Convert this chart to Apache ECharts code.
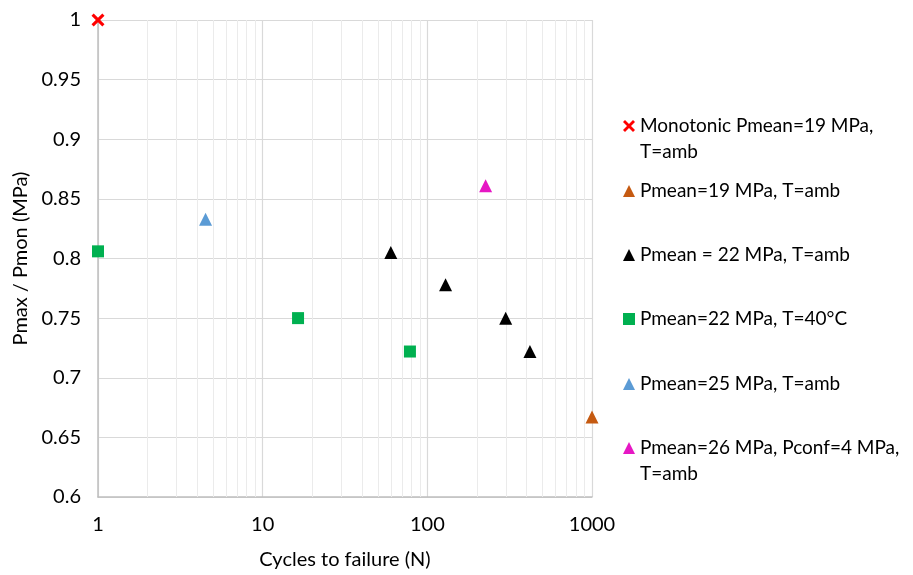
<!DOCTYPE html>
<html>
<head>
<meta charset="utf-8">
<script src="https://cdn.jsdelivr.net/npm/echarts@6/dist/echarts.min.js"></script>
<style>
  html, body { margin: 0; padding: 0; background: #fff; }
  #chart { width: 913px; height: 575px; }
</style>
</head>
<body>
<div id="chart"></div>
<script>
// Series names (legend text)
const seriesNames = [
  'Monotonic Pmean=19 MPa,\nT=amb',
  'Pmean=19 MPa, T=amb',
  'Pmean = 22 MPa, T=amb',
  'Pmean=22 MPa, T=40°C',
  'Pmean=25 MPa, T=amb',
  'Pmean=26 MPa, Pconf=4 MPa,\nT=amb'
];

// Cycles to failure (N) and Pmax / Pmon per test series
const monoCycles = [1];
const monoRatio = [1.0];

const p19Cycles = [1000];
const p19Ratio = [0.667];

const p22Cycles = [60, 129, 299, 420];
const p22Ratio = [0.805, 0.778, 0.750, 0.722];

const p22hotCycles = [1, 16.4, 78.4];
const p22hotRatio = [0.806, 0.750, 0.722];

const p25Cycles = [4.5];
const p25Ratio = [0.833];

const p26Cycles = [226];
const p26Ratio = [0.861];

// Log-axis minor gridline positions
const minorGrid = [2, 3, 4, 5, 6, 7, 8, 9, 20, 30, 40, 50, 60, 70, 80, 90, 200, 300, 400, 500, 600, 700, 800, 900];

const FONT = 'Lato, "Open Sans", sans-serif';
const xShape = 'path://M0,2 L2,0 L6,4 L10,0 L12,2 L8,6 L12,10 L10,12 L6,8 L2,12 L0,10 L4,6 Z';

function pairs(xs, ys) {
  return xs.map((x, i) => [x, ys[i]]);
}

const styles = [
  { symbol: xShape, size: 13, color: '#ff0000' },
  { symbol: 'triangle', size: 13, color: '#c55a11' },
  { symbol: 'triangle', size: 13, color: '#000000' },
  { symbol: 'rect', size: 12, color: '#00b050' },
  { symbol: 'triangle', size: 13, color: '#5b9bd5' },
  { symbol: 'triangle', size: 13, color: '#e617c4' }
];

const datasets = [
  pairs(monoCycles, monoRatio),
  pairs(p19Cycles, p19Ratio),
  pairs(p22Cycles, p22Ratio),
  pairs(p22hotCycles, p22hotRatio),
  pairs(p25Cycles, p25Ratio),
  pairs(p26Cycles, p26Ratio)
];

const series = datasets.map((data, i) => ({
  name: seriesNames[i],
  type: 'scatter',
  data: data,
  symbol: styles[i].symbol,
  symbolSize: styles[i].size,
  itemStyle: { color: styles[i].color, opacity: 1 },
  clip: false,
  z: 5,
  animation: false
}));

// Minor vertical gridlines carried by a series with no points
series.push({
  type: 'scatter',
  data: [],
  z: 1,
  silent: true,
  animation: false,
  markLine: {
    silent: true,
    symbol: 'none',
    animation: false,
    label: { show: false },
    lineStyle: { color: '#ebebeb', width: 1, type: 'solid' },
    data: minorGrid.map(v => ({ xAxis: v }))
  }
});

// One legend block per entry so every row sits on its own line;
// wrapped entries get a blank leading line so the marker lines up with the first text line
const legendRowCenters = [126, 191, 255, 319, 384, 448];
const legends = seriesNames.map((name, i) => {
  const twoLine = name.indexOf('\n') >= 0;
  return {
    data: [{ name: name, icon: styles[i].symbol }],
    orient: 'vertical',
    left: 623,
    top: legendRowCenters[i] - (twoLine ? 39 : 13),
    padding: 0,
    itemWidth: 12,
    itemHeight: 12,
    selectedMode: false,
    formatter: n => (twoLine ? ' \n' + n : n),
    textStyle: {
      fontFamily: FONT,
      fontSize: 19,
      color: '#000',
      lineHeight: 26
    }
  };
});

const chart = echarts.init(document.getElementById('chart'), null, { renderer: 'canvas' });
chart.setOption({
  animation: false,
  backgroundColor: '#ffffff',
  grid: { left: 98, right: 321, top: 20, bottom: 73, containLabel: false },
  legend: legends,
  xAxis: {
    type: 'log',
    logBase: 10,
    min: 1,
    max: 1000,
    name: 'Cycles to failure (N)',
    nameLocation: 'middle',
    nameGap: 53,
    nameTextStyle: { fontFamily: FONT, fontSize: 20, color: '#000' },
    axisLine: { show: true, lineStyle: { color: '#bfbfbf', width: 1.5 } },
    axisTick: { show: false },
    axisLabel: { fontFamily: FONT, fontSize: 20, color: '#000', margin: 18, formatter: v => String(v) },
    splitLine: { show: true, lineStyle: { color: '#d9d9d9', width: 1.2 } },
    z: 3
  },
  yAxis: {
    type: 'value',
    min: 0.6,
    max: 1,
    interval: 0.05,
    name: 'Pmax / Pmon (MPa)',
    nameLocation: 'middle',
    nameGap: 62,
    nameTextStyle: { fontFamily: FONT, fontSize: 20, color: '#000' },
    axisLine: { show: true, lineStyle: { color: '#bfbfbf', width: 1.5 } },
    axisTick: { show: false },
    axisLabel: { fontFamily: FONT, fontSize: 20, color: '#000', margin: 17 },
    splitLine: { show: true, lineStyle: { color: '#d9d9d9', width: 1.2 } },
    z: 3
  },
  series: series
});
</script>
</body>
</html>
